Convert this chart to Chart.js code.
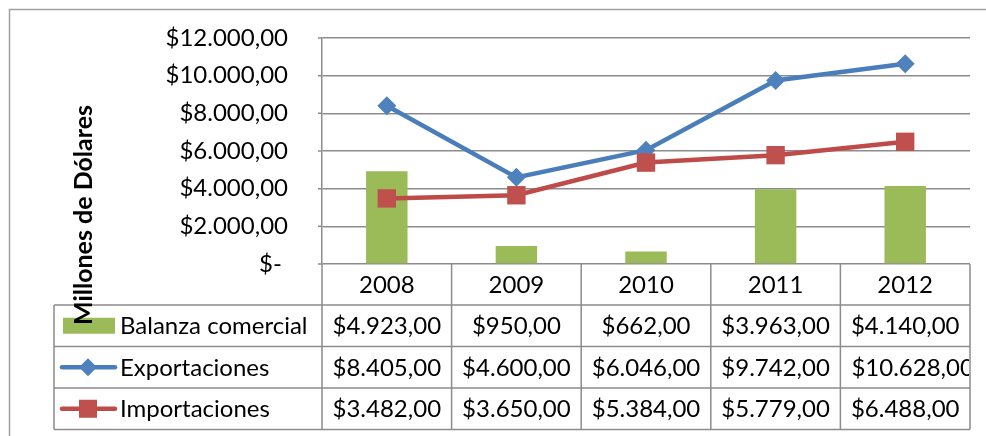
<!DOCTYPE html>
<html>
<head>
<meta charset="utf-8">
<script src="https://cdn.jsdelivr.net/npm/chart.js@4/dist/chart.umd.min.js"></script>
<style>
  body { margin: 0; background: #fff; }
  #wrap { width: 986px; height: 436px; }
</style>
</head>
<body>
<div id="wrap"><canvas id="tradeChart" width="986" height="436"></canvas></div>
<script>
const years = ["2008", "2009", "2010", "2011", "2012"];
const balanza = [4923, 950, 662, 3963, 4140];
const exportaciones = [8405, 4600, 6046, 9742, 10628];
const importaciones = [3482, 3650, 5384, 5779, 6488];
const yTicks = [0, 2000, 4000, 6000, 8000, 10000, 12000];

const FONT = "Lato";
const GREEN = "#9BBB59";
const BLUE = "#4A7EBB";
const RED = "#BE4B48";
const GRID = "#8C8C8C";

function money(v) {
    const parts = Math.round(v).toString().replace(/\B(?=(\d{3})+(?!\d))/g, ".");
    return "$" + parts + ",00";
}

// rows of the data table under the plot
const tableRows = [
    { label: "Balanza comercial", values: balanza, key: "bar", color: GREEN },
    { label: "Exportaciones", values: exportaciones, key: "diamond", color: BLUE },
    { label: "Importaciones", values: importaciones, key: "square", color: RED }
];

const dataTable = {
    id: "dataTable",
    afterDraw(chart) {
        const ctx = chart.ctx;
        const x = chart.scales.x;
        const area = chart.chartArea;
        const step = x.getPixelForValue(1) - x.getPixelForValue(0);
        const edges = years.map((_, i) => x.getPixelForValue(i) - step / 2);
        edges.push(x.getPixelForValue(years.length - 1) + step / 2);

        const top = area.bottom;
        const headerH = 41;
        const rowH = 41.5;
        const tableLeft = 54;
        const right = edges[edges.length - 1];

        ctx.save();

        // outer frame
        ctx.strokeStyle = "#A0A0A0";
        ctx.lineWidth = 1.5;
        ctx.beginPath();
        ctx.moveTo(986, 9.5);
        ctx.lineTo(9.5, 9.5);
        ctx.lineTo(9.5, 436);
        ctx.stroke();

        // small tick stubs left of the value axis
        ctx.strokeStyle = GRID;
        ctx.lineWidth = 1.5;
        ctx.beginPath();
        yTicks.forEach(v => {
            const y = chart.scales.y.getPixelForValue(v);
            ctx.moveTo(area.left - 4, y);
            ctx.lineTo(area.left, y);
        });
        ctx.stroke();

        // table grid
        ctx.beginPath();
        edges.forEach(e => {
            ctx.moveTo(e, top);
            ctx.lineTo(e, top + headerH + rowH * tableRows.length);
        });
        ctx.moveTo(tableLeft, top + headerH);
        ctx.lineTo(tableLeft, top + headerH + rowH * tableRows.length);
        for (let r = 0; r <= tableRows.length; r++) {
            const y = top + headerH + rowH * r;
            ctx.moveTo(tableLeft, y);
            ctx.lineTo(right, y);
        }
        ctx.stroke();

        ctx.fillStyle = "#000";
        ctx.font = "24px " + FONT;
        ctx.textBaseline = "middle";

        // header years
        ctx.textAlign = "center";
        years.forEach((yr, i) => {
            ctx.fillText(yr, x.getPixelForValue(i), top + headerH / 2 + 1);
        });

        tableRows.forEach((row, r) => {
            const cy = top + headerH + rowH * r + rowH / 2;

            // legend key
            ctx.save();
            if (row.key === "bar") {
                ctx.fillStyle = row.color;
                ctx.fillRect(63, cy - 8, 52, 16);
            } else {
                ctx.strokeStyle = row.color;
                ctx.lineWidth = 4.5;
                ctx.lineCap = "round";
                ctx.beginPath();
                ctx.moveTo(62, cy);
                ctx.lineTo(115, cy);
                ctx.stroke();
                ctx.fillStyle = row.key === "diamond" ? "#4F81BD" : "#C0504D";
                if (row.key === "diamond") {
                    ctx.beginPath();
                    ctx.moveTo(88, cy - 9);
                    ctx.lineTo(97, cy);
                    ctx.lineTo(88, cy + 9);
                    ctx.lineTo(79, cy);
                    ctx.closePath();
                    ctx.fill();
                } else {
                    ctx.fillRect(79, cy - 9, 18, 18);
                }
            }
            ctx.restore();

            ctx.textAlign = "left";
            ctx.fillText(row.label, 120, cy + 1);

            // value cells
            row.values.forEach((v, i) => {
                const txt = money(v);
                const w = ctx.measureText(txt).width;
                const cellL = edges[i], cellR = edges[i + 1];
                ctx.save();
                ctx.beginPath();
                ctx.rect(cellL + 1, cy - rowH / 2, cellR - cellL - 2, rowH);
                ctx.clip();
                if (w > cellR - cellL - 10) {
                    ctx.textAlign = "left";
                    ctx.fillText(txt, cellL + 11, cy + 1);
                } else {
                    ctx.textAlign = "center";
                    ctx.fillText(txt, (cellL + cellR) / 2, cy + 1);
                }
                ctx.restore();
            });
        });

        // rotated axis title
        ctx.translate(84, 215);
        ctx.rotate(-Math.PI / 2);
        ctx.font = "bold 25px " + FONT;
        ctx.textAlign = "center";
        ctx.fillText("Millones de Dólares", 0, 0);

        ctx.restore();
    }
};

new Chart(document.getElementById("tradeChart"), {
    data: {
        labels: years,
        datasets: [
            {
                type: "line",
                label: "Importaciones",
                data: importaciones,
                borderColor: RED,
                backgroundColor: "#C0504D",
                borderWidth: 4.5,
                pointStyle: "rect",
                pointRadius: 13,
                pointHoverRadius: 13,
                pointBorderWidth: 0,
                order: 0
            },
            {
                type: "line",
                label: "Exportaciones",
                data: exportaciones,
                borderColor: BLUE,
                backgroundColor: "#4F81BD",
                borderWidth: 4.5,
                pointStyle: "rectRot",
                pointRadius: 9.5,
                pointHoverRadius: 9.5,
                pointBorderWidth: 0,
                order: 1
            },
            {
                type: "bar",
                label: "Balanza comercial",
                data: balanza,
                backgroundColor: GREEN,
                categoryPercentage: 1,
                barPercentage: 0.32,
                order: 2
            }
        ]
    },
    options: {
        responsive: false,
        animation: false,
        layout: { autoPadding: false, padding: { left: 10, right: 16, top: 38, bottom: 172 } },
        plugins: {
            legend: { display: false },
            tooltip: { enabled: false }
        },
        scales: {
            x: {
                display: false,
                offset: true
            },
            y: {
                min: 0,
                max: 12000,
                afterBuildTicks: axis => { axis.ticks = yTicks.map(v => ({ value: v })); },
                afterFit: axis => { axis.width = 312; },
                border: { color: GRID, width: 1.5 },
                grid: { color: GRID, lineWidth: 1.5, tickLength: 30, tickColor: "rgba(0,0,0,0)" },
                ticks: {
                    color: "#000",
                    padding: 4,
                    font: { family: FONT, size: 24 },
                    callback: v => v === 0 ? "$- " : money(v)
                }
            }
        }
    },
    plugins: [dataTable]
});
</script>
</body>
</html>
